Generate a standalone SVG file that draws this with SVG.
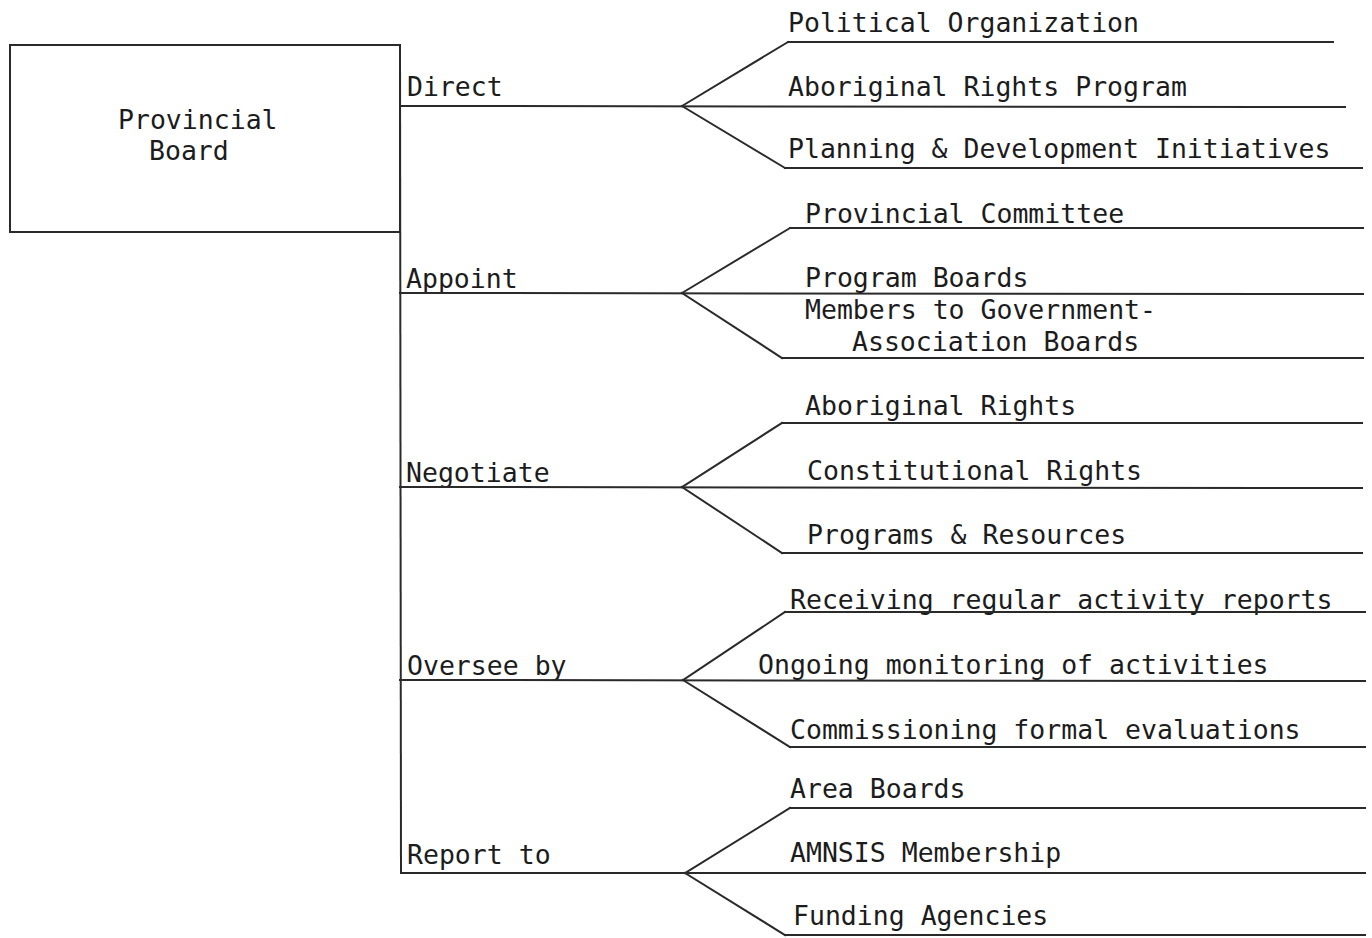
<svg xmlns="http://www.w3.org/2000/svg" width="1372" height="938" viewBox="0 0 1372 938">
  <style>
    .bg { fill: #ffffff; }
    .ln { stroke: #2a2a2a; stroke-width: 2; fill: none; stroke-linecap: square; }
    .box { stroke: #2a2a2a; stroke-width: 2; fill: none; }
    .t { font-family: "DejaVu Sans Mono", "Liberation Mono", monospace; font-size: 26.5px; fill: #1c1c1c; }
  </style>
  <rect class="bg" x="0" y="0" width="1372" height="938"/>

  <!-- root node -->
  <g id="node-provincial-board">
    <rect class="box" x="10" y="45" width="390" height="187"/>
    <text class="t" x="118" y="129">Provincial</text>
    <text class="t" x="149" y="160">Board</text>
  </g>

  <!-- action nodes -->
  <g id="node-direct"><text class="t" x="407" y="96">Direct</text></g>
  <g id="node-appoint"><text class="t" x="406" y="288">Appoint</text></g>
  <g id="node-negotiate"><text class="t" x="406" y="482">Negotiate</text></g>
  <g id="node-oversee"><text class="t" x="407" y="675">Oversee by</text></g>
  <g id="node-report"><text class="t" x="407" y="864">Report to</text></g>

  <!-- leaf nodes: label + rule -->
  <g id="node-political-organization">
    <text class="t" x="788" y="32">Political Organization</text>
    <line class="ln" x1="788" y1="42" x2="1333" y2="42"/>
  </g>
  <g id="node-aboriginal-rights-program">
    <text class="t" x="788" y="96">Aboriginal Rights Program</text>
  </g>
  <g id="node-planning-development">
    <text class="t" x="788" y="158">Planning &amp; Development Initiatives</text>
    <line class="ln" x1="785" y1="168" x2="1362" y2="168"/>
  </g>

  <g id="node-provincial-committee">
    <text class="t" x="805" y="223">Provincial Committee</text>
    <line class="ln" x1="790" y1="228" x2="1363" y2="228"/>
  </g>
  <g id="node-program-boards">
    <text class="t" x="805" y="287">Program Boards</text>
  </g>
  <g id="node-government-association-boards">
    <text class="t" x="805" y="319">Members to Government-</text>
    <text class="t" x="852" y="351">Association Boards</text>
    <line class="ln" x1="782" y1="358" x2="1363" y2="358"/>
  </g>

  <g id="node-aboriginal-rights">
    <text class="t" x="805" y="415">Aboriginal Rights</text>
    <line class="ln" x1="782" y1="423" x2="1362" y2="423"/>
  </g>
  <g id="node-constitutional-rights">
    <text class="t" x="807" y="480">Constitutional Rights</text>
  </g>
  <g id="node-programs-resources">
    <text class="t" x="807" y="544">Programs &amp; Resources</text>
    <line class="ln" x1="782" y1="553" x2="1362" y2="553"/>
  </g>

  <g id="node-activity-reports">
    <text class="t" x="790" y="609">Receiving regular activity reports</text>
    <line class="ln" x1="785" y1="612" x2="1365" y2="612"/>
  </g>
  <g id="node-ongoing-monitoring">
    <text class="t" x="758" y="674">Ongoing monitoring of activities</text>
  </g>
  <g id="node-formal-evaluations">
    <text class="t" x="790" y="739">Commissioning formal evaluations</text>
    <line class="ln" x1="790" y1="747" x2="1365" y2="747"/>
  </g>

  <g id="node-area-boards">
    <text class="t" x="790" y="798">Area Boards</text>
    <line class="ln" x1="790" y1="808" x2="1365" y2="808"/>
  </g>
  <g id="node-amnsis-membership">
    <text class="t" x="790" y="862">AMNSIS Membership</text>
  </g>
  <g id="node-funding-agencies">
    <text class="t" x="793" y="925">Funding Agencies</text>
    <line class="ln" x1="785" y1="935" x2="1365" y2="935"/>
  </g>

  <!-- connectors: trunk, action rules and fans -->
  <g id="connectors">
    <line class="ln" x1="400" y1="45" x2="401" y2="873"/>

    <!-- Direct -->
    <line class="ln" x1="400" y1="106" x2="1345" y2="107"/>
    <line class="ln" x1="682" y1="106" x2="788" y2="42"/>
    <line class="ln" x1="682" y1="106" x2="785" y2="168"/>

    <!-- Appoint -->
    <line class="ln" x1="400" y1="293" x2="1363" y2="294"/>
    <line class="ln" x1="682" y1="293" x2="790" y2="228"/>
    <line class="ln" x1="682" y1="293" x2="782" y2="358"/>

    <!-- Negotiate -->
    <line class="ln" x1="400" y1="487" x2="1362" y2="488"/>
    <line class="ln" x1="682" y1="487" x2="782" y2="423"/>
    <line class="ln" x1="682" y1="487" x2="782" y2="553"/>

    <!-- Oversee by -->
    <line class="ln" x1="400" y1="680" x2="1365" y2="681"/>
    <line class="ln" x1="683" y1="680" x2="785" y2="612"/>
    <line class="ln" x1="683" y1="680" x2="790" y2="747"/>

    <!-- Report to -->
    <line class="ln" x1="401" y1="873" x2="1365" y2="873"/>
    <line class="ln" x1="685" y1="873" x2="790" y2="808"/>
    <line class="ln" x1="685" y1="873" x2="785" y2="935"/>
  </g>
</svg>
